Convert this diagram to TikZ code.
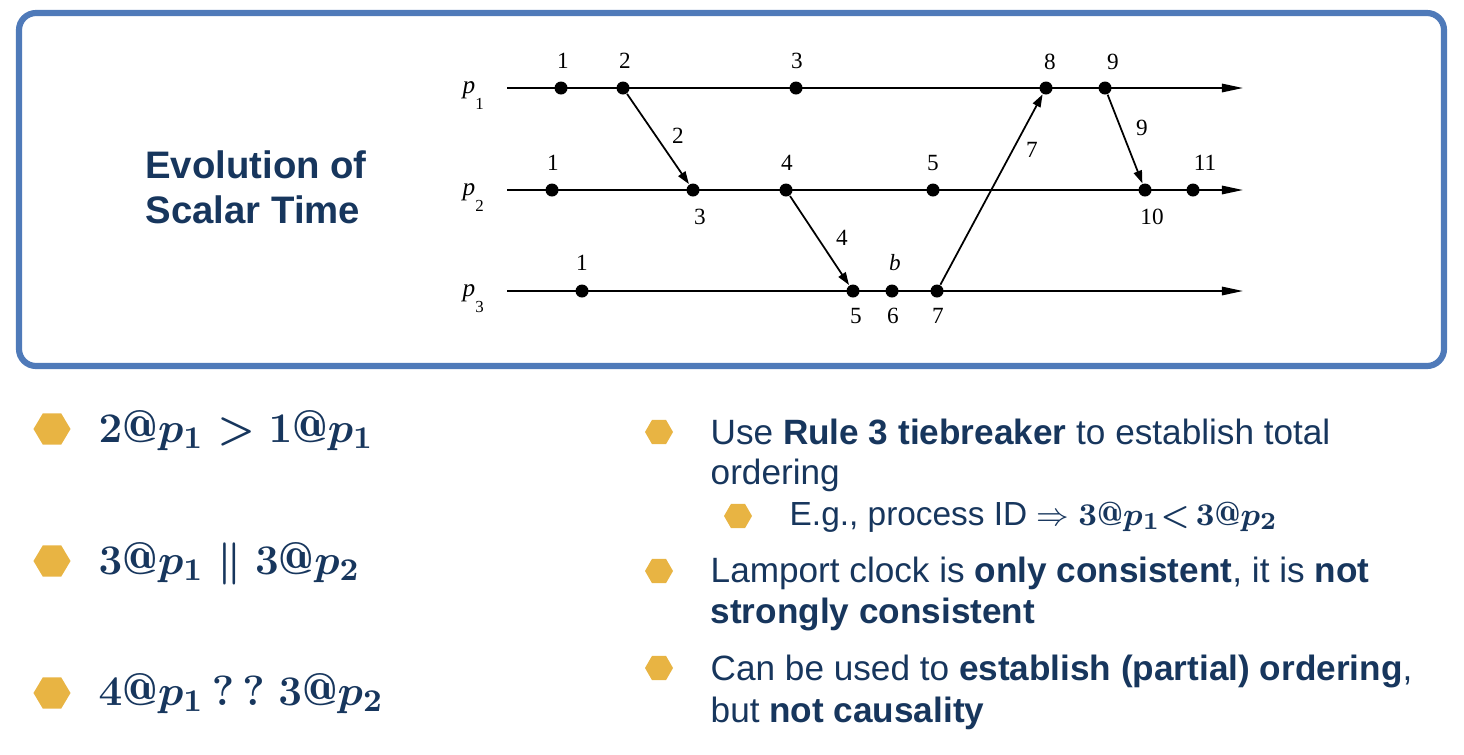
\documentclass[tikz,border=0pt]{standalone}
\usepackage{fontspec}
\newfontfamily\arialf{Liberation Sans}
\newfontfamily\tnr{Liberation Serif}
\usetikzlibrary{arrows.meta,shapes.geometric}
\definecolor{navy}{RGB}{23,54,93}
\definecolor{gold}{RGB}{232,180,67}
\definecolor{frameblue}{RGB}{79,122,185}
\tikzset{
  dot/.style={circle, fill=black, inner sep=0pt, minimum size=0.13cm},
  num/.style={font=\tnr\fontsize{6.6}{7}\selectfont, inner sep=0pt},
  plabel/.style={font=\tnr\fontsize{7.2}{8}\selectfont, inner sep=0pt, anchor=base west},
  axis/.style={line width=0.5pt, -{Triangle[length=6pt,width=2.4pt]}},
  msg/.style={line width=0.5pt, -{Triangle[length=3.6pt,width=2.4pt]}},
  hexbig/.style={regular polygon, regular polygon sides=6, fill=gold, draw=none, inner sep=0pt, minimum size=0.37cm, yscale=0.97},
  hexsmall/.style={regular polygon, regular polygon sides=6, fill=gold, draw=none, inner sep=0pt, minimum size=0.28cm},
  mathtxt/.style={font=\fontsize{13}{15}\selectfont\boldmath, text=navy, anchor=base west, inner sep=0pt},
  bodytxt/.style={font=\arialf\fontsize{10}{12}\selectfont, text=navy, anchor=base west, inner sep=0pt},
  subtxt/.style={font=\arialf\fontsize{9.5}{11}\selectfont, text=navy, anchor=base west, inner sep=0pt},
  titletxt/.style={font=\arialf\bfseries\fontsize{10.9}{12}\selectfont, text=navy, anchor=base, inner sep=0pt},
}
\begin{document}
\begin{tikzpicture}[x=0.01cm,y=-0.01cm]
\useasboundingbox (0,0) rectangle (1464,754);
% frame
\draw[frameblue, line width=1.75pt, rounded corners=0.17cm] (19,13) rectangle (1444,366);
% title
\node[titletxt] (ev1) at (256,178) {Evolution of};
\node[titletxt] (ev2) at (253,223) {Scalar Time};
% process labels
\node[plabel] (pl1) at (462,93) {\textit{p}\raisebox{-4.8pt}{\fontsize{4.8}{5}\selectfont 1}};
\node[plabel] (pl2) at (462,195) {\textit{p}\raisebox{-4.8pt}{\fontsize{4.8}{5}\selectfont 2}};
\node[plabel] (pl3) at (462,296) {\textit{p}\raisebox{-4.8pt}{\fontsize{4.8}{5}\selectfont 3}};
% axis ends
\coordinate (s1) at (507,88); \coordinate (e1) at (1243,88);
\coordinate (s2) at (507,190); \coordinate (e2) at (1243,190);
\coordinate (s3) at (507,291); \coordinate (e3) at (1243,291);
\draw[axis] (s1) -- (e1);
\draw[axis] (s2) -- (e2);
\draw[axis] (s3) -- (e3);
% events p1
\node[dot] (a1) at (561,88) {};
\node[dot] (a2) at (623,88) {};
\node[dot] (a3) at (796,88) {};
\node[dot] (a8) at (1046,88) {};
\node[dot] (a9) at (1105,88) {};
% events p2
\node[dot] (b1) at (552,190) {};
\node[dot] (b3) at (693,190) {};
\node[dot] (b4) at (786,190) {};
\node[dot] (b5) at (933,190) {};
\node[dot] (b10) at (1145,190) {};
\node[dot] (b11) at (1193,190) {};
% events p3
\node[dot] (c1) at (582,291) {};
\node[dot] (c5) at (853,291) {};
\node[dot] (c6) at (892,291) {};
\node[dot] (c7) at (937,291) {};
% messages
\draw[msg] (a2) -- (b3);
\draw[msg] (b4) -- (c5);
\draw[msg] (c7) -- (a8);
\draw[msg] (a9) -- (b10);
% event labels
\node[num] (la1) at (563,61) {1};
\node[num] (la2) at (625,61) {2};
\node[num] (la3) at (797,61) {3};
\node[num] (la8) at (1050,62) {8};
\node[num] (la9) at (1113,62) {9};
\node[num] (lb1) at (553,163) {1};
\node[num] (lb3) at (700,217) {3};
\node[num] (lb4) at (787,163) {4};
\node[num] (lb5) at (933,163) {5};
\node[num] (lb10) at (1152,217) {10};
\node[num] (lb11) at (1205,163) {11};
\node[num] (lc1) at (582,263) {1};
\node[num] (lcb) at (895,263) {\textit{b}};
\node[num] (lc5) at (856,316) {5};
\node[num] (lc6) at (893,316) {6};
\node[num] (lc7) at (938,316) {7};
% message labels
\node[num] (m2) at (678,136) {2};
\node[num] (m4) at (842,238) {4};
\node[num] (m7) at (1032,150) {7};
\node[num] (m9) at (1142,128) {9};
% left bullets
\node[hexbig] (h1) at (52,429) {};
\node[hexbig] (h2) at (52,561) {};
\node[hexbig] (h3) at (52,693) {};
\node[mathtxt] (f1) at (98,442) {$2@p_1>1@p_1$};
\node[mathtxt] (f2) at (98,574) {$3@p_1\;\|\;3@p_2$};
\node[mathtxt] (f3) at (98,705) {$4@p_1\,?\,?\;3@p_2$};
% right bullets
\node[hexsmall] (r1) at (659,432) {};
\node[hexsmall] (r2) at (738,516) {};
\node[hexsmall] (r3) at (659,571) {};
\node[hexsmall] (r4) at (659,668) {};
\node[bodytxt] (t1) at (710,444) {Use \textbf{Rule 3 tiebreaker} to establish total};
\node[bodytxt] (t2) at (710,484) {ordering};
\node[subtxt] (t3) at (789,525) {E.g., process ID $\Rightarrow$ {\boldmath$3@p_1{<}\,3@p_2$}};
\node[bodytxt] (t4) at (710,582) {Lamport clock is \textbf{only consistent}, it is \textbf{not}};
\node[bodytxt] (t5) at (710,623) {\textbf{strongly consistent}};
\node[bodytxt] (t6) at (710,680) {Can be used to \textbf{establish (partial) ordering},};
\node[bodytxt] (t7) at (710,722) {but \textbf{not causality}};
\end{tikzpicture}
\end{document}
